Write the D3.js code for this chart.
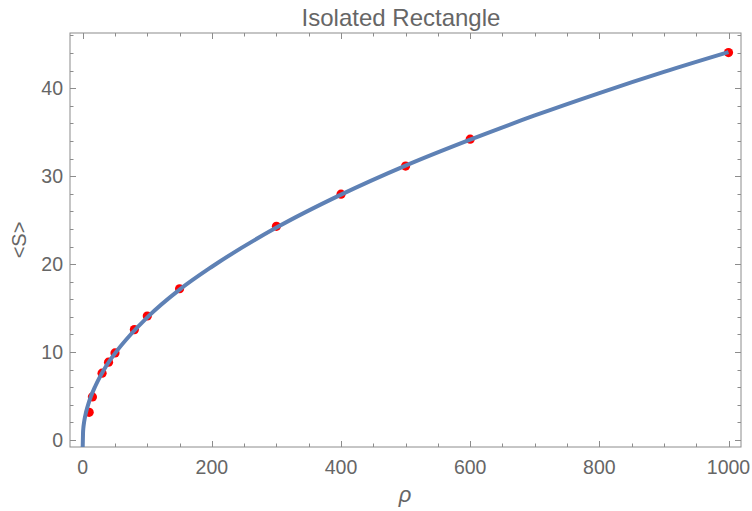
<!DOCTYPE html>
<html>
<head>
<meta charset="utf-8">
<script src="https://cdn.jsdelivr.net/npm/d3@7"></script>
<style>
  body { margin: 0; background: #fff; }
  svg text { font-family: "Liberation Sans", Arial, sans-serif; fill: #666; }
</style>
</head>
<body>
<div id="chart"></div>
<script>
// measured points (rho, <S>)
var rhoValues = [10, 15, 30, 40, 50, 80, 100, 150, 300, 400, 500, 600, 1000];
var sValues   = [3.15, 4.9, 7.6, 8.85, 9.9, 12.55, 14.1, 17.2, 24.3, 27.95, 31.15, 34.2, 44.05];

// fitted curve
var fitRho = [0, 0.5, 1, 2, 3, 5, 10, 20, 35, 50, 75, 100, 150, 200, 300, 400, 500, 600, 700, 800, 900, 1000];
var fitS   = [-0.8, 0.8, 1.35, 1.95, 2.4, 3.1, 4.4, 6.2, 8.25, 9.85, 12.05, 13.95, 17.1, 19.7, 24.15, 27.9, 31.2, 34.15, 36.9, 39.45, 41.85, 44.1];

var xTicks = [0, 200, 400, 600, 800, 1000];
var yTicks = [0, 10, 20, 30, 40];

var width = 752, height = 511;
var frame = { left: 70, right: 741, top: 33, bottom: 447 };

var x = d3.scaleLinear().domain([0, 1000]).range([82.7, 728.5]);
var y = d3.scaleLinear().domain([0, 40]).range([440, 88.2]);

var svg = d3.select("#chart").append("svg")
    .attr("width", width)
    .attr("height", height);

svg.append("defs").append("clipPath").attr("id", "clip")
  .append("rect")
    .attr("x", frame.left).attr("y", frame.top)
    .attr("width", frame.right - frame.left)
    .attr("height", frame.bottom - frame.top);

var axisColor = "#8c8c8c";

// frame
svg.append("rect")
    .attr("x", frame.left).attr("y", frame.top)
    .attr("width", frame.right - frame.left)
    .attr("height", frame.bottom - frame.top)
    .style("fill", "none")
    .style("stroke", axisColor)
    .style("stroke-width", 1);

// ticks on all four sides
var xMinor = d3.range(0, 1001, 50);
var yMinor = d3.range(0, 47, 2);

var ticks = svg.append("g").style("stroke", axisColor).style("stroke-width", 1);
xMinor.forEach(function(v) {
    var len = (v % 200 === 0) ? 6 : 3.5;
    var px = Math.round(x(v)) + 0.5;
    ticks.append("line").attr("x1", px).attr("x2", px).attr("y1", frame.bottom).attr("y2", frame.bottom - len);
    ticks.append("line").attr("x1", px).attr("x2", px).attr("y1", frame.top).attr("y2", frame.top + len);
});
yMinor.forEach(function(v) {
    var len = (v % 10 === 0) ? 6 : 3.5;
    var py = Math.round(y(v)) + 0.5;
    ticks.append("line").attr("y1", py).attr("y2", py).attr("x1", frame.left).attr("x2", frame.left + len);
    ticks.append("line").attr("y1", py).attr("y2", py).attr("x1", frame.right).attr("x2", frame.right - len);
});

// tick labels
svg.append("g").selectAll("text")
    .data(xTicks).enter().append("text")
    .attr("x", function(d) { return x(d); })
    .attr("y", 474)
    .attr("text-anchor", "middle")
    .style("font-size", "19.5px")
    .text(function(d) { return d; });

svg.append("g").selectAll("text")
    .data(yTicks).enter().append("text")
    .attr("x", 63)
    .attr("y", function(d) { return y(d) + 7; })
    .attr("text-anchor", "end")
    .style("font-size", "19.5px")
    .text(function(d) { return d; });

// curve
var line = d3.line()
    .x(function(d, i) { return x(fitRho[i]); })
    .y(function(d, i) { return y(fitS[i]); })
    .curve(d3.curveMonotoneX);

var plot = svg.append("g").attr("clip-path", "url(#clip)");

// points
plot.append("g").selectAll("circle")
    .data(rhoValues).enter().append("circle")
    .attr("cx", function(d) { return x(d); })
    .attr("cy", function(d, i) { return y(sValues[i]); })
    .attr("r", 4.6)
    .style("fill", "#f00");

plot.append("path")
    .datum(fitS)
    .attr("d", line)
    .style("fill", "none")
    .style("stroke", "#5e81b5")
    .style("stroke-width", 4);

// title and axis labels
svg.append("text")
    .attr("x", 401).attr("y", 26)
    .attr("text-anchor", "middle")
    .style("font-size", "24px")
    .text("Isolated Rectangle");

svg.append("text")
    .attr("x", 405).attr("y", 502)
    .attr("text-anchor", "middle")
    .style("font-size", "22px")
    .style("font-style", "italic")
    .text("ρ");

svg.append("text")
    .attr("transform", "translate(26,240) rotate(-90)")
    .attr("text-anchor", "middle")
    .style("font-size", "20px")
    .text("<S>");
</script>
</body>
</html>
